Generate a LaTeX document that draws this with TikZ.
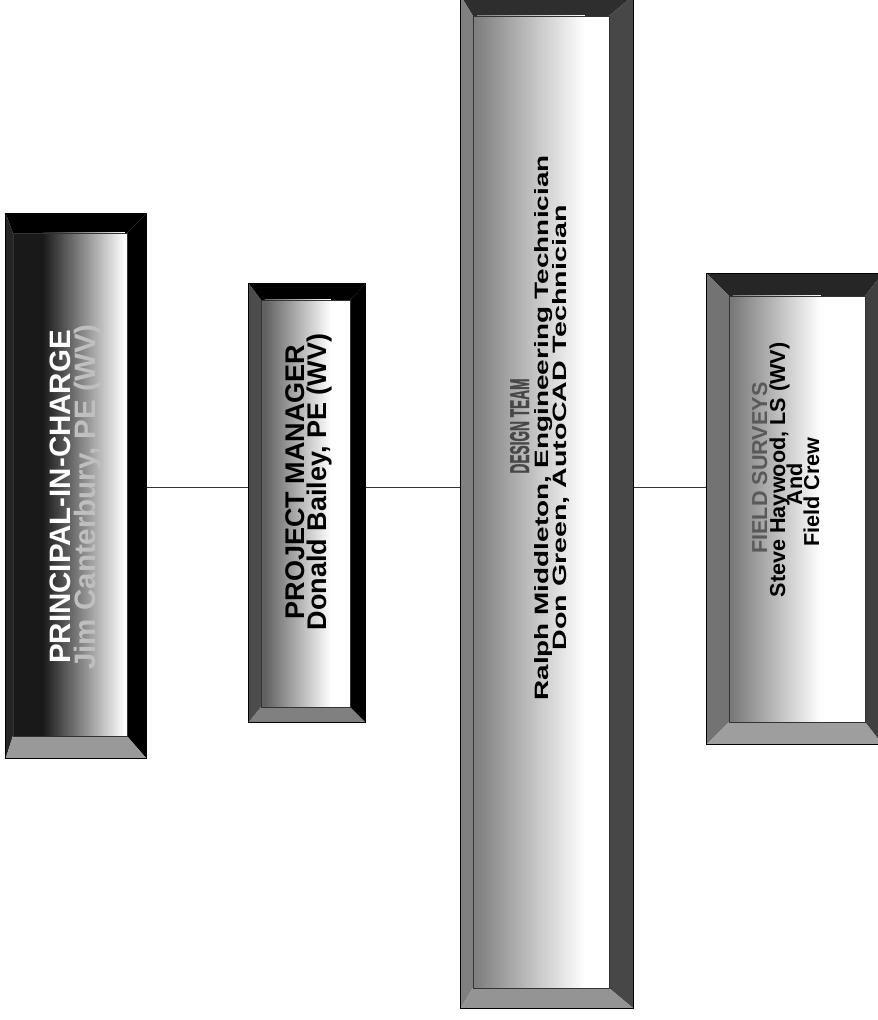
\documentclass[tikz,border=0pt]{standalone}
\usepackage{fontspec}
\setmainfont{Liberation Sans}
\newfontfamily\condf[FakeBold=1.6]{Liberation Sans}
\usepackage{graphicx}
\usetikzlibrary{calc}

\newcommand\bevelframe[9]{%
  \coordinate (#1-a) at ($(#1.north west)+(#2,#3)$);
  \coordinate (#1-b) at ($(#1.north east)+(-#4,#3)$);
  \coordinate (#1-c) at ($(#1.south east)+(-#4,-#5)$);
  \coordinate (#1-d) at ($(#1.south west)+(#2,-#5)$);
  \fill[#7] (#1.north west) -- (#1.north east) -- (#1-b) -- (#1-a) -- cycle;
  \fill[#6] (#1.north west) -- (#1-a) -- (#1-d) -- (#1.south west) -- cycle;
  \fill[#8] (#1.north east) -- (#1-b) -- (#1-c) -- (#1.south east) -- cycle;
  \fill[#9] (#1.south west) -- (#1-d) -- (#1-c) -- (#1.south east) -- cycle;
}
% #1 name, #2 dark colour, #3 solid width, #4 ramp width
\newcommand\boxface[4]{%
  \fill[white] (#1-a) rectangle (#1-c);
  \fill[#2] (#1-a) rectangle ($(#1-d)+(#3,0)$);
  \shade[left color=#2, right color=white] ($(#1-a)+(#3,0)$) rectangle ($(#1-d)+(#3+#4,0)$);
  \draw[faceline] (#1-a) rectangle (#1-c);
  \draw[outline] (#1.north west) rectangle (#1.south east);
}

\begin{document}
\begin{tikzpicture}[x=1pt, y=-1pt,
  boxnode/.style={rectangle, inner sep=0pt, draw=none},
  outline/.style={draw=black, line width=0.8pt},
  faceline/.style={draw=black!80, line width=0.5pt},
  conn/.style={draw=black!80, line width=1pt},
  txt/.style={rotate=90, anchor=base, inner sep=0pt, font=\bfseries},
  big/.style={font=\bfseries\fontsize{29.5}{29.5}\selectfont},
  mid/.style={font=\bfseries\fontsize{27}{27}\selectfont},
  small/.style={font=\bfseries\fontsize{21.6}{21.6}\selectfont},
  dt/.style={font=\bfseries\fontsize{20}{20}\selectfont},
  dth/.style={font=\condf\bfseries\fontsize{20}{20}\selectfont}
]
\useasboundingbox (0,0) rectangle (878,1020);

% boxes
\node[boxnode, minimum width=140pt, minimum height=544pt] (pic) at (76,486) {};
\node[boxnode, minimum width=116pt, minimum height=438pt] (pm) at (307,503) {};
\node[boxnode, minimum width=172pt, minimum height=1012pt] (dt) at (547,502) {};
\node[boxnode, minimum width=175pt, minimum height=470pt] (fs) at (794.5,509) {};

% connectors
\coordinate (lv) at (0,487);
\draw[conn] (pic.east |- lv) -- (pm.west |- lv);
\draw[conn] (pm.east |- lv) -- (dt.west |- lv);
\draw[conn] (dt.east |- lv) -- (fs.west |- lv);

% bevels and faces
\bevelframe{pic}{7}{19}{19}{22}{black!85}{black}{black}{black!40}
\boxface{pic}{black!90}{30}{82}
\bevelframe{pm}{12}{16}{15}{15}{black!70}{black}{black}{black!50}
\boxface{pm}{black!62}{4}{66}
\bevelframe{dt}{12}{20}{24}{20}{black!50}{black!82}{black!72}{black!42}
\boxface{dt}{black!50}{4}{108}
\bevelframe{fs}{22}{22}{17}{22}{black!55}{black!85}{black!75}{black!38}
\boxface{fs}{black!52}{4}{88}

% texts
\node[txt, big, text=white] (pic-l1) at (70,497) {PRINCIPAL-IN-CHARGE};
\node[txt, big, text=black!25] (pic-l2) at (95,497) {Jim Canterbury, PE (WV)};

\node[txt, mid] (pm-l1) at (304,482) {PROJECT MANAGER};
\node[txt, mid] (pm-l2) at (326,482) {Donald Bailey, PE (WV)};

\node[txt, dth, text=black!72] (dt-l1) at (529,426) {\resizebox{95pt}{19pt}{DESIGN TEAM}};
\node[txt, dt] (dt-l2) at (548,428) {\resizebox{545pt}{14pt}{Ralph Middleton, Engineering Technician}};
\node[txt, dt] (dt-l3) at (566,428) {\resizebox{445pt}{14pt}{Don Green, AutoCAD Technician}};

\node[txt, small, text=black!65] (fs-l1) at (767,468) {FIELD SURVEYS};
\node[txt, small] (fs-l2) at (785,470) {Steve Haywood, LS (WV)};
\node[txt, small] (fs-l3) at (802,484) {And};
\node[txt, small] (fs-l4) at (819,492) {Field Crew};
\end{tikzpicture}
\end{document}
